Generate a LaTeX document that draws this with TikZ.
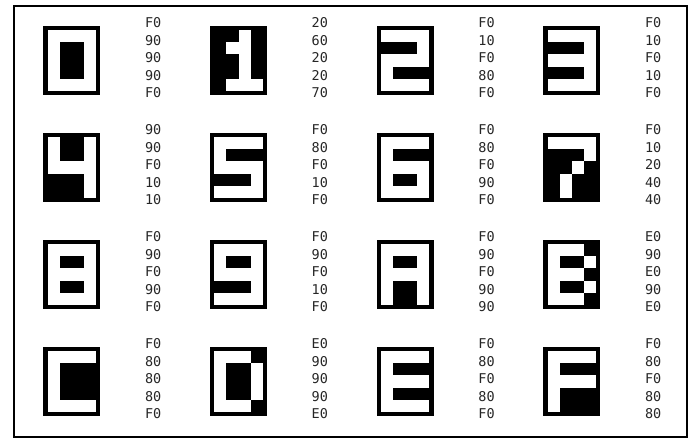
\documentclass[tikz,border=0pt]{standalone}
\usepackage{fontspec}
\setmonofont{DejaVu Sans Mono}
\expandafter\def\csname hv1\endcsname{1}
\expandafter\def\csname hv2\endcsname{2}
\expandafter\def\csname hv4\endcsname{4}
\expandafter\def\csname hv6\endcsname{6}
\expandafter\def\csname hv7\endcsname{7}
\expandafter\def\csname hv8\endcsname{8}
\expandafter\def\csname hv9\endcsname{9}
\expandafter\def\csname hvE\endcsname{14}
\expandafter\def\csname hvF\endcsname{15}
\begin{document}
\begin{tikzpicture}[x=1pt,y=-1pt,
  hexlbl/.style={font=\ttfamily\fontsize{13.5}{15}\selectfont, text=black!85, inner sep=0pt, anchor=west},
  glyphbox/.style={fill=black},
  pix/.style={fill=white},
  frame/.style={draw=black, line width=2pt}]
\useasboundingbox (0,0) rectangle (695,444);
\draw[frame] (14,6) rectangle (687,437);
\foreach \g [count=\i from 0] in {{F,9,9,9,F},{2,6,2,2,7},{F,1,F,8,F},{F,1,F,1,F},{9,9,F,1,1},{F,8,F,1,F},{F,8,F,9,F},{F,1,2,4,4},{F,9,F,9,F},{F,9,F,1,F},{F,9,F,9,9},{E,9,E,9,E},{F,8,8,8,F},{E,9,9,9,E},{F,8,F,8,F},{F,8,F,8,8}}{
  \pgfmathsetmacro\gx{43.3+166.7*mod(\i,4)}
  \pgfmathsetmacro\gy{26+107*floor(\i/4)}
  \fill[glyphbox] (\gx,\gy) rectangle ++(57,69);
  \foreach \h [count=\r from 0] in \g {
    \node[hexlbl] (t\i-\r) at (\gx+101.5, \gy-3.2+17.5*\r) {\h0};
    \foreach \c in {0,...,3}{
      \pgfmathtruncatemacro\bit{mod(floor(\csname hv\h\endcsname/2^(3-\c)),2)}
      \ifnum\bit=1 \fill[pix] (\gx+4.3+12.1*\c, \gy+4.25+12.1*\r) rectangle ++(12.1,12.1);\fi
    }
  }
}
\end{tikzpicture}
\end{document}
